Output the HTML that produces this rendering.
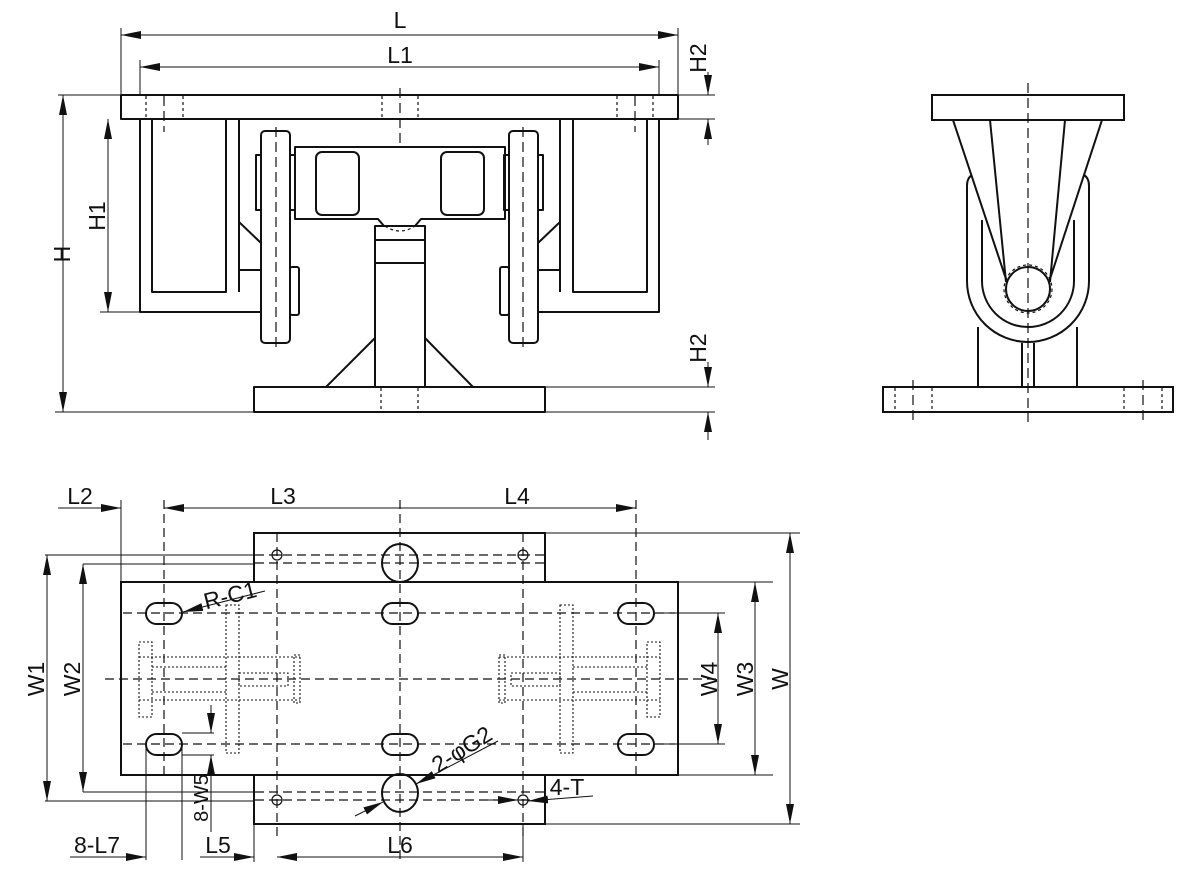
<!DOCTYPE html>
<html><head><meta charset="utf-8"><style>
html,body{margin:0;padding:0;background:#fff;}
svg{display:block;}
text{font-family:"Liberation Sans",Arial,sans-serif;font-size:23px;fill:#111;}
</style></head><body>
<svg width="1200" height="877" viewBox="0 0 1200 877" xmlns="http://www.w3.org/2000/svg">
<defs>
<marker id="ar" viewBox="0 0 20 8" refX="20" refY="4" markerWidth="20" markerHeight="8" markerUnits="userSpaceOnUse" orient="auto-start-reverse"><path d="M0,0 L20,4 L0,8 Z" fill="#111"/></marker>
</defs>
<g fill="none" stroke="#111" stroke-width="2" stroke-linejoin="round">
<rect x="121" y="95" width="557" height="24"/>
<path d="M140,119 V312 H261"/>
<path d="M152,119 V292 H226 V119"/>
<path d="M239,119 V292"/>
<path d="M239,270 H261 M239,222 L261,243"/>
<path d="M659,119 V312 H538"/>
<path d="M647,119 V292 H573 V119"/>
<path d="M560,119 V292"/>
<path d="M560,270 H538 M560,222 L538,243"/>
<rect x="261" y="131" width="29" height="212" rx="4"/>
<rect x="509" y="131" width="29" height="212" rx="4"/>
<rect x="256" y="155" width="5" height="55"/>
<rect x="290" y="155" width="5" height="55"/>
<rect x="290" y="267" width="9" height="48" rx="2"/>
<rect x="538" y="155" width="5" height="55"/>
<rect x="504" y="155" width="5" height="55"/>
<rect x="500" y="267" width="9" height="48" rx="2"/>
<path d="M295,147 H505 V219 H421 L415,226 H384 L378,219 H295 Z"/>
<rect x="316" y="152" width="43" height="63" rx="6"/>
<rect x="441" y="152" width="43" height="63" rx="6"/>
<path d="M375,387 V226 H425 V387"/>
<path d="M375,240 H425 M375,263 H425"/>
<path d="M375,338 L326,387 M425,338 L473,387"/>
<rect x="254" y="387" width="291" height="25"/>
</g>
<g fill="none" stroke="#111" stroke-width="1.2" stroke-dasharray="3,3">
<path d="M146,96 V119 M183,96 V119 M382,96 V119 M418,96 V119 M617,96 V119 M653,96 V119"/>
<path d="M381,388 V412 M418,388 V412"/>
<path d="M385,226 Q400,236 415,226"/>
</g>
<g fill="none" stroke="#111" stroke-width="1.2" stroke-dasharray="10,5">
<path d="M164,96 V132 M635,96 V132 M400,88 V148"/>
<path d="M276,127 V349 M523,127 V349"/>
</g>
<g fill="none" stroke="#111" stroke-width="1">
<path d="M121,28 V95 M678,28 V95 M140,60 V95 M659,60 V95"/>
<path d="M121,35 H678" marker-start="url(#ar)" marker-end="url(#ar)"/>
<path d="M140,67 H659" marker-start="url(#ar)" marker-end="url(#ar)"/>
<path d="M58,95 H121 M678,95 H715 M678,119 H715 M100,312 H140 M55,412 H254 M545,387 H715 M545,412 H715"/>
<path d="M63,95 V412" marker-start="url(#ar)" marker-end="url(#ar)"/>
<path d="M108,119 V312" marker-start="url(#ar)" marker-end="url(#ar)"/>
<path d="M708,72 V95" marker-end="url(#ar)"/>
<path d="M708,145 V119" marker-end="url(#ar)"/>
<path d="M708,362 V387" marker-end="url(#ar)"/>
<path d="M708,440 V412" marker-end="url(#ar)"/>
</g>
<text x="400" y="28" text-anchor="middle">L</text>
<text x="400" y="63" text-anchor="middle">L1</text>
<text transform="translate(70,254) rotate(-90)" text-anchor="middle">H</text>
<text transform="translate(105,216) rotate(-90)" text-anchor="middle">H1</text>
<text transform="translate(706,58) rotate(-90)" text-anchor="middle">H2</text>
<text transform="translate(706,348) rotate(-90)" text-anchor="middle">H2</text>

<g fill="none" stroke="#111" stroke-width="2">
<rect x="932" y="95" width="192" height="25"/>
<rect x="883" y="387" width="290" height="25"/>
<path d="M967,186 Q967,178 972,175 M967,186 V281 A61,61 0 0 0 1089,281 V186 Q1089,178 1084,175"/>
<path d="M982,220 V281 A46,46 0 0 0 1074,281 V220"/>
<circle cx="1028" cy="289" r="22"/>
<path d="M953,120 L1007,282 M1102,120 L1049,282 M990,120 L1006,282 M1065,120 L1050,282"/>
<path d="M978,327 V387 M1077,327 V387"/>
<path d="M1022,343 V387 M1034,343 V387"/>
</g>
<g fill="none" stroke="#111" stroke-width="1.2" stroke-dasharray="3,3">
<circle cx="1028" cy="289" r="24"/>
<path d="M895,388 V412 M932,388 V412 M1124,388 V412 M1162,388 V412"/>
</g>
<g fill="none" stroke="#111" stroke-width="1.2" stroke-dasharray="10,5">
<path d="M1028,83 V422 M913,380 V420 M1143,380 V420"/>
</g>

<g fill="none" stroke="#111" stroke-width="2">
<rect x="121" y="582" width="557" height="193"/>
<path d="M254,582 V533 H545 V582 M254,775 V824 H545 V775"/>
<rect x="146" y="603" width="36" height="21" rx="10.5"/>
<rect x="382" y="603" width="36" height="21" rx="10.5"/>
<rect x="618" y="603" width="36" height="21" rx="10.5"/>
<rect x="146" y="734" width="36" height="21" rx="10.5"/>
<rect x="382" y="734" width="36" height="21" rx="10.5"/>
<rect x="618" y="734" width="36" height="21" rx="10.5"/>
<ellipse cx="400" cy="563" rx="18" ry="19"/>
<ellipse cx="400" cy="793" rx="18" ry="19"/>
</g>
<g fill="none" stroke="#111" stroke-width="1.2">
<circle cx="277" cy="555" r="5"/><circle cx="523" cy="555" r="5"/>
<circle cx="277" cy="800" r="5"/><circle cx="523" cy="800" r="5"/>
<path d="M272,555 H282 M518,555 H528 M272,800 H282 M518,800 H528"/>
</g>
<g fill="none" stroke="#111" stroke-width="1.2" stroke-dasharray="9,5">
<path d="M255,555 H545 M255,563 H545 M255,792 H545 M255,800 H545"/>
<path d="M123,613 H675 M123,744 H675 M105,679 H720"/>
<path d="M164,500 V775 M636,500 V775 M277,533 V840 M523,533 V840 M400,500 V860"/>
</g>
<g fill="none" stroke="#111" stroke-width="1.1" stroke-dasharray="2,2">
<rect x="226" y="605" width="13" height="148"/>
<rect x="139" y="642" width="13" height="75"/>
<rect x="294" y="655" width="6" height="48"/>
<rect x="239" y="673" width="49" height="13"/>
<path d="M139,657 H300 M152,667 H226 M152,692 H226 M139,700 H300"/>
<rect x="560" y="605" width="13" height="148"/>
<rect x="647" y="642" width="13" height="75"/>
<rect x="499" y="655" width="6" height="48"/>
<rect x="511" y="673" width="49" height="13"/>
<path d="M499,657 H660 M573,667 H647 M573,692 H647 M499,700 H660"/>
</g>
<g fill="none" stroke="#111" stroke-width="1">
<path d="M121,500 V582"/>
<path d="M58,508 H121" marker-end="url(#ar)"/>
<path d="M400,508 H164" marker-end="url(#ar)"/>
<path d="M400,508 H636" marker-end="url(#ar)"/>
<path d="M45,555 H255 M83,564 H255 M83,792 H255 M45,801 H255"/>
<path d="M47,555 V801" marker-start="url(#ar)" marker-end="url(#ar)"/>
<path d="M83,564 V792" marker-start="url(#ar)" marker-end="url(#ar)"/>
<path d="M545,533 H800 M545,824 H800 M678,582 H773 M678,775 H773 M655,613 H725 M655,744 H725"/>
<path d="M790,533 V824" marker-start="url(#ar)" marker-end="url(#ar)"/>
<path d="M755,582 V775" marker-start="url(#ar)" marker-end="url(#ar)"/>
<path d="M718,613 V744" marker-start="url(#ar)" marker-end="url(#ar)"/>
<path d="M146,744 V860 M182,744 V860 M254,824 V862 M523,824 V862"/>
<path d="M70,857 H146" marker-end="url(#ar)"/>
<path d="M200,857 H254" marker-end="url(#ar)"/>
<path d="M400,857 H277" marker-end="url(#ar)"/>
<path d="M400,857 H523" marker-end="url(#ar)"/>
<path d="M182,733 H214 M182,755 H214"/>
<path d="M211,705 V733" marker-end="url(#ar)"/>
<path d="M211,832 V755" marker-end="url(#ar)"/>
<path d="M265,591 L183,612" marker-end="url(#ar)"/>
<path d="M498,741 L416,784" marker-end="url(#ar)"/>
<path d="M355,816 L383,802" marker-end="url(#ar)"/>
<path d="M593,796 L528,801" marker-end="url(#ar)"/>
<path d="M485,800 L518,800" marker-end="url(#ar)"/>
</g>
<text x="80" y="504" text-anchor="middle">L2</text>
<text x="283" y="504" text-anchor="middle">L3</text>
<text x="517" y="504" text-anchor="middle">L4</text>
<text transform="translate(44,679) rotate(-90)" text-anchor="middle">W1</text>
<text transform="translate(80,679) rotate(-90)" text-anchor="middle">W2</text>
<text transform="translate(717,679) rotate(-90)" text-anchor="middle">W4</text>
<text transform="translate(753,679) rotate(-90)" text-anchor="middle">W3</text>
<text transform="translate(788,679) rotate(-90)" text-anchor="middle">W</text>
<text transform="translate(208,798) rotate(-90)" text-anchor="middle" style="font-size:20px">8-W5</text>
<text x="97" y="853" text-anchor="middle">8-L7</text>
<text x="218" y="853" text-anchor="middle">L5</text>
<text x="400" y="853" text-anchor="middle">L6</text>
<text transform="translate(232,603) rotate(-14)" text-anchor="middle">R-C1</text>
<text transform="translate(466,756) rotate(-32)" text-anchor="middle">2-φG2</text>
<text x="567" y="795" text-anchor="middle">4-T</text>
</svg>
</body></html>
